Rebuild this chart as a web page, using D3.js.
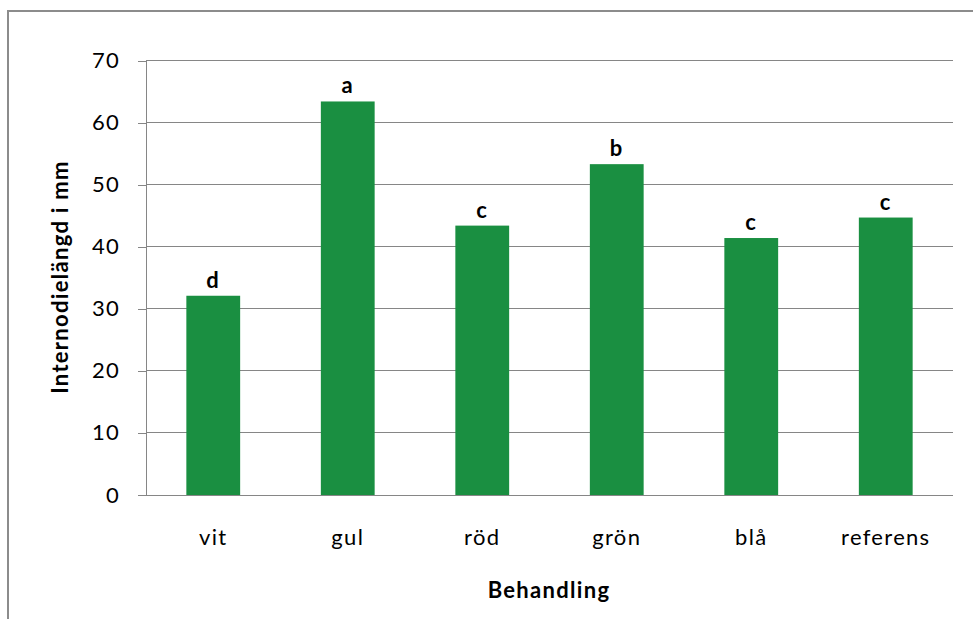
<!DOCTYPE html>
<html>
<head>
<meta charset="utf-8">
<script src="https://cdn.jsdelivr.net/npm/d3@7"></script>
<style>
  html, body { margin: 0; padding: 0; background: #fff; }
  svg { display: block; }
  text { font-family: Lato, "Open Sans", sans-serif; fill: #000; letter-spacing: 1.3px; }
</style>
</head>
<body>
<svg id="chart" width="973" height="619"></svg>
<script>
// Treatments (light colour) and mean internode length per treatment
const categories = ["vit", "gul", "röd", "grön", "blå", "referens"];
const values = [32.1, 63.4, 43.4, 53.3, 41.4, 44.7];
// Significance groups printed above each bar
const groups = ["d", "a", "c", "b", "c", "c"];
const yTicks = [0, 10, 20, 30, 40, 50, 60, 70];

(function () {
  const svg = d3.select("#chart");
  const W = 973, H = 619;
  const fontFamily = "Lato, 'Open Sans', sans-serif";

  // Chart frame
  svg.append("path")
    .attr("d", `M8,${H} V11 H${W}`)
    .attr("fill", "none")
    .attr("stroke", "#8c8c8c")
    .attr("stroke-width", 2);

  const plotLeft = 146, plotRight = 953, plotTop = 60.5, plotBottom = 495;

  const x = d3.scaleBand().domain(categories).range([plotLeft, plotRight]).padding(0);
  const y = d3.scaleLinear().domain([0, 70]).range([plotBottom, plotTop]);

  // Horizontal gridlines
  svg.append("g")
    .selectAll("line")
    .data(yTicks.filter(t => t > 0))
    .join("line")
    .attr("x1", plotLeft).attr("x2", plotRight)
    .attr("y1", d => y(d)).attr("y2", d => y(d))
    .attr("stroke", "#868686").attr("stroke-width", 1)
    .attr("shape-rendering", "crispEdges");

  // Y axis
  const yAxis = svg.append("g")
    .attr("transform", `translate(${plotLeft},0)`)
    .call(d3.axisLeft(y).tickValues(yTicks).tickSize(8).tickPadding(18).tickSizeOuter(0));
  yAxis.select(".domain").attr("stroke", "#868686").attr("shape-rendering", "crispEdges");
  yAxis.selectAll(".tick line").attr("stroke", "#868686").attr("shape-rendering", "crispEdges");
  yAxis.selectAll(".tick text").attr("font-size", 22).attr("fill", "#000")
    .attr("font-family", fontFamily);

  // X axis baseline
  svg.append("line")
    .attr("x1", plotLeft - 8).attr("x2", plotRight)
    .attr("y1", y(0)).attr("y2", y(0))
    .attr("stroke", "#868686").attr("shape-rendering", "crispEdges");

  // Category labels
  svg.append("g")
    .selectAll("text")
    .data(categories)
    .join("text")
    .attr("x", d => x(d) + x.bandwidth() / 2)
    .attr("y", 545)
    .attr("text-anchor", "middle")
    .attr("font-size", 22)
    .text(d => d);

  // Bars
  const barW = x.bandwidth() * 0.4;
  svg.append("g")
    .selectAll("rect")
    .data(categories)
    .join("rect")
    .attr("x", d => x(d) + (x.bandwidth() - barW) / 2)
    .attr("width", barW)
    .attr("y", (d, i) => y(values[i]))
    .attr("height", (d, i) => y(0) - y(values[i]))
    .attr("fill", "#1a8f41");

  // Group letters
  svg.append("g")
    .selectAll("text")
    .data(categories)
    .join("text")
    .attr("x", d => x(d) + x.bandwidth() / 2)
    .attr("y", (d, i) => y(values[i]) - 8)
    .attr("text-anchor", "middle")
    .attr("font-size", 22)
    .attr("font-weight", "bold")
    .text((d, i) => groups[i]);

  // Axis titles
  svg.append("text")
    .attr("x", 549).attr("y", 598)
    .attr("text-anchor", "middle")
    .attr("font-size", 22)
    .attr("font-weight", "bold")
    .text("Behandling");

  svg.append("text")
    .attr("transform", `translate(68,277) rotate(-90)`)
    .attr("text-anchor", "middle")
    .attr("font-size", 22)
    .attr("font-weight", "bold")
    .text("Internodielängd i mm");
})();
</script>
</body>
</html>
